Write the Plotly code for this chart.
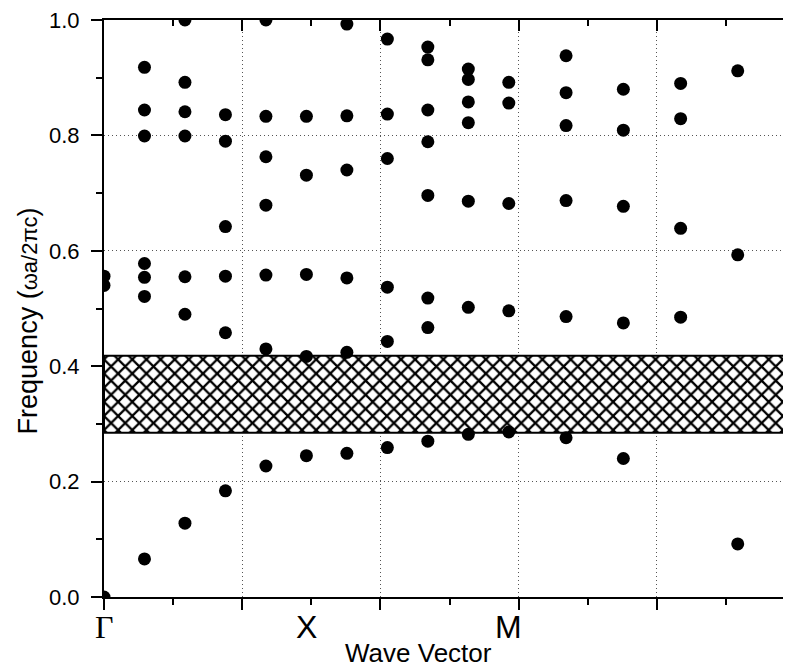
import plotly.graph_objects as go

# ---------------- data ----------------
k_points = [0.0, 0.2, 0.4, 0.6, 0.8, 1.0, 1.2, 1.4, 1.6, 1.8, 2.0,
            2.283, 2.566, 2.849, 3.131, 3.414]

freq_columns = [
    [0.000, 0.540, 0.556],
    [0.066, 0.521, 0.554, 0.578, 0.799, 0.844, 0.918],
    [0.128, 0.490, 0.555, 0.799, 0.841, 0.892, 1.000],
    [0.184, 0.458, 0.556, 0.642, 0.790, 0.836],
    [0.227, 0.430, 0.558, 0.679, 0.763, 0.833, 1.000],
    [0.245, 0.417, 0.559, 0.731, 0.833],
    [0.249, 0.424, 0.553, 0.740, 0.834, 0.993],
    [0.259, 0.443, 0.537, 0.760, 0.837, 0.967],
    [0.270, 0.467, 0.518, 0.696, 0.789, 0.844, 0.931, 0.953],
    [0.282, 0.502, 0.686, 0.822, 0.858, 0.897, 0.915],
    [0.286, 0.496, 0.682, 0.856, 0.892],
    [0.276, 0.486, 0.687, 0.817, 0.874, 0.938],
    [0.240, 0.475, 0.677, 0.809, 0.880],
    [0.485, 0.639, 0.829, 0.890],
    [0.092, 0.593, 0.912],
    [0.000, 0.540, 0.556],
]

sym_labels = ["Γ", "X", "M", "Γ"]
sym_positions = [0.0, 1.0, 2.0, 3.414]

gap_bottom = 0.2845
gap_top = 0.418

y_ticks = [0.0, 0.2, 0.4, 0.6, 0.8, 1.0]

# ---------------- geometry ----------------
K_END = 3.414
MAJ = K_END / 5.0
MINR = MAJ / 2.0

# page has an 8px body margin; plot frame: page x 104..795, y 17..597
FIG_W = 787
FIG_H = 659
L, T, B, R = 96, 9, 70, 0
PLOT_H = FIG_H - T - B


def py(page_y):
    """page pixel y -> paper y"""
    return (FIG_H - B - (page_y - 8)) / PLOT_H


xs, ys = [], []
for k, col in zip(k_points, freq_columns):
    for f in col:
        xs.append(k)
        ys.append(f)

fig = go.Figure()

# photonic band gap (hatched)
fig.add_trace(go.Scatter(
    x=[0, K_END, K_END, 0, 0],
    y=[gap_bottom, gap_bottom, gap_top, gap_top, gap_bottom],
    mode="lines", fill="toself",
    line=dict(color="black", width=2),
    fillcolor="white",
    fillpattern=dict(shape="x", fgcolor="#000000", bgcolor="#ffffff",
                     fgopacity=1, size=10, solidity=0.4),
    showlegend=False, hoverinfo="skip"))

fig.add_trace(go.Scatter(
    x=xs, y=ys, mode="markers",
    marker=dict(color="black", size=13, line=dict(width=0)),
    showlegend=False))

# dummy trace for mirror axes
fig.add_trace(go.Scatter(x=[None], y=[None], xaxis="x2", yaxis="y2",
                         showlegend=False, hoverinfo="skip"))

tickfont = dict(family="Liberation Sans, Arial", size=22, color="black")

fig.update_layout(
    width=FIG_W, height=FIG_H,
    margin=dict(l=L, r=R, t=T, b=B),
    paper_bgcolor="white", plot_bgcolor="white",
    xaxis=dict(range=[0, K_END], tick0=0, dtick=MAJ,
               showticklabels=False, ticks="outside", ticklen=11,
               tickwidth=2, tickcolor="black",
               minor=dict(tick0=0, dtick=MINR, ticks="outside", ticklen=6,
                          tickwidth=2, tickcolor="black", showgrid=False),
               showline=True, linewidth=2, linecolor="black",
               showgrid=True, gridcolor="#555", gridwidth=1,
               griddash="1px,3px", zeroline=False),
    yaxis=dict(range=[0, 1], tickvals=y_ticks, tickformat=".1f",
               ticks="outside", ticklen=11, tickwidth=2, tickcolor="black",
               ticklabelstandoff=7, ticklabeloverflow="allow",
               minor=dict(dtick=0.1, ticks="outside", ticklen=6,
                          tickwidth=2, tickcolor="black", showgrid=False),
               tickfont=tickfont,
               showline=True, linewidth=2, linecolor="black",
               showgrid=True, gridcolor="#555", gridwidth=1,
               griddash="1px,3px", zeroline=False),
    xaxis2=dict(overlaying="x", side="top", anchor="y2",
                range=[0, K_END], tick0=0, dtick=MAJ,
                showticklabels=False, ticks="inside", ticklen=11,
                tickwidth=2, tickcolor="black",
                minor=dict(tick0=0, dtick=MINR, ticks="inside", ticklen=6,
                           tickwidth=2, tickcolor="black"),
                showline=True, linewidth=2, linecolor="black",
                showgrid=False, zeroline=False),
    yaxis2=dict(overlaying="y", side="right", anchor="x2",
                range=[0, 1], tickvals=y_ticks,
                showticklabels=False, ticks="inside", ticklen=11,
                tickwidth=2, tickcolor="black",
                minor=dict(dtick=0.1, ticks="inside", ticklen=6,
                           tickwidth=2, tickcolor="black"),
                showline=True, linewidth=2, linecolor="black",
                showgrid=False, zeroline=False),
)

# symmetry-point labels
for lab, pos in zip(sym_labels, sym_positions):
    fam = "Liberation Serif, Times New Roman" if lab == "Γ" else "Liberation Sans, Arial"
    fig.add_annotation(x=pos, xref="x", y=py(627), yref="paper",
                       text=lab, showarrow=False, xanchor="center",
                       yanchor="middle",
                       font=dict(family=fam, size=32, color="black"))

# axis titles
fig.add_annotation(x=1.555, xref="x", y=py(653), yref="paper",
                   text="Wave Vector", showarrow=False, xanchor="center",
                   yanchor="middle",
                   font=dict(family="Liberation Sans, Arial", size=26,
                             color="black"))
fig.add_annotation(x=(28 - 104) / (FIG_W - L - R), xref="paper",
                   y=py(320), yref="paper",
                   text="Frequency (<span style='font-size:22px'>ωa/2πc</span>)",
                   textangle=-90, showarrow=False, xanchor="center",
                   yanchor="middle",
                   font=dict(family="Liberation Sans, Arial", size=27,
                             color="black"))

fig.write_html("out.html", config={"displayModeBar": False})
